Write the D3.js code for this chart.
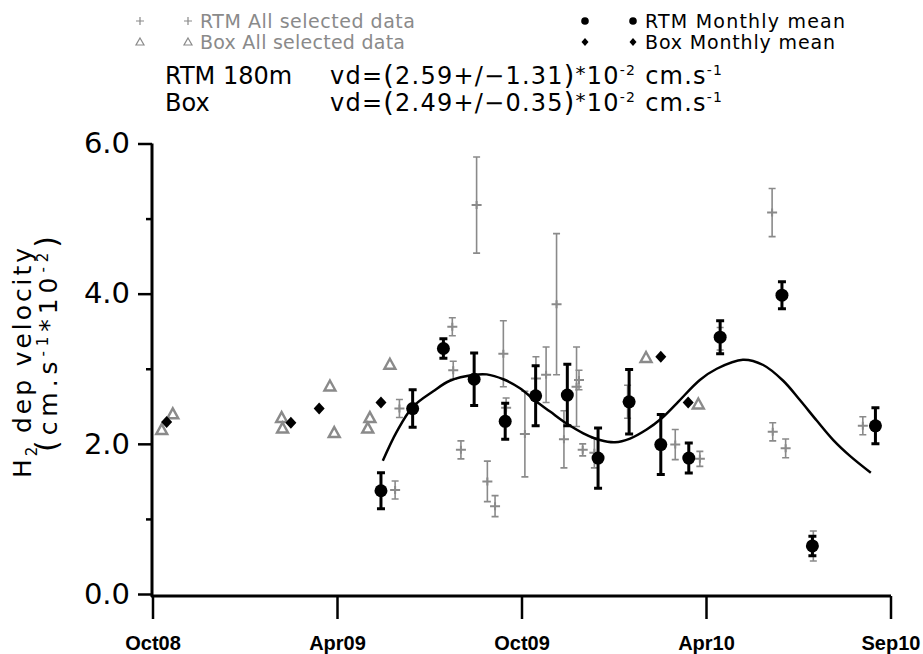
<!DOCTYPE html>
<html>
<head>
<meta charset="utf-8">
<script src="https://cdn.jsdelivr.net/npm/d3@7"></script>
<style>
  body { margin: 0; background: #fff; }
  svg text { font-family: "DejaVu Sans", sans-serif; }
</style>
</head>
<body>
<div id="chart"></div>
<script>
// months since Oct 2008
const tickMonths = [0, 6, 12, 18, 24];
const tickLabels = ['Oct08', 'Apr09', 'Oct09', 'Apr10', 'Sep10'];

const rtmAllMonth = [7.89, 8.03, 9.75, 9.78, 10.03, 10.54, 10.89, 11.14, 11.41, 11.5, 12.11, 12.47, 12.8, 13.14,
  13.38, 13.79, 13.87, 13.99, 14.37, 15.45, 17.0, 17.8, 18.46, 20.15, 20.17, 20.59, 21.49, 23.1];
const rtmAllValue = [1.385, 2.47, 3.56, 2.98, 1.92, 5.18, 1.50, 1.17, 3.20, 2.48, 2.13, 2.87, 2.92, 3.86,
  2.06, 2.76, 2.85, 1.92, 1.88, 2.56, 1.99, 1.80, 3.40, 5.08, 2.16, 1.94, 0.64, 2.24];
const rtmAllErr = [0.12, 0.12, 0.12, 0.12, 0.12, 0.64, 0.27, 0.14, 0.44, 0.13, 0.57, 0.29, 0.37, 0.94,
  0.38, 0.53, 0.13, 0.08, 0.2, 0.22, 0.2, 0.1, 0.15, 0.32, 0.12, 0.125, 0.2, 0.12];

const rtmMeanMonth = [7.43, 8.46, 9.46, 10.46, 11.47, 12.46, 13.49, 14.49, 15.5, 16.53, 17.44, 18.46, 20.47, 21.46, 23.51];
const rtmMeanValue = [1.375, 2.47, 3.27, 2.86, 2.30, 2.64, 2.65, 1.81, 2.56, 1.99, 1.81, 3.42, 3.98, 0.64, 2.24];
const rtmMeanErr = [0.24, 0.25, 0.13, 0.35, 0.24, 0.40, 0.41, 0.40, 0.43, 0.40, 0.2, 0.22, 0.18, 0.13, 0.24];

const boxAllMonth = [0.3, 0.66, 4.2, 4.23, 5.77, 5.91, 7.07, 7.0, 7.72, 16.05, 17.75];
const boxAllValue = [2.19, 2.40, 2.35, 2.21, 2.77, 2.15, 2.35, 2.21, 3.06, 3.15, 2.53];

const boxMeanMonth = [0.46, 4.5, 5.42, 7.43, 16.53, 17.42];
const boxMeanValue = [2.29, 2.28, 2.47, 2.55, 3.16, 2.55];

const fitMonth = [7.49, 7.94, 8.46, 9.13, 9.67, 10.46, 10.87, 11.41, 11.95, 12.46, 12.93, 13.47, 14.01, 14.55,
  15.04, 15.53, 16.07, 16.53, 17.05, 17.8, 18.35, 19.2, 19.86, 20.51, 21.06, 21.6, 22.14, 22.68, 23.36];
const fitValue = [1.775, 2.16, 2.49, 2.70, 2.84, 2.92, 2.925, 2.86, 2.74, 2.57, 2.43, 2.27, 2.14, 2.05,
  2.02, 2.07, 2.19, 2.33, 2.54, 2.85, 3.0, 3.12, 3.05, 2.84, 2.58, 2.31, 2.05, 1.84, 1.615];

const W = 923, H = 654;
const grey = '#8a8a8a';

const svg = d3.select('#chart').append('svg')
  .attr('width', W)
  .attr('height', H);

const x = d3.scaleLinear().domain([0, 24]).range([152.5, 890.5]);
const y = d3.scaleLinear().domain([0, 6]).range([594, 143.5]);

// y axis
const yAxis = svg.append('g')
  .attr('transform', 'translate(152,0)')
  .call(d3.axisLeft(y).tickValues([0, 1, 2, 3, 4, 5, 6]).tickSizeOuter(0).tickPadding(10)
    .tickFormat((d) => (d % 2 === 0 ? d3.format('.1f')(d) : '')));
yAxis.select('.domain').attr('stroke', '#000').attr('stroke-width', 3).attr('d', 'M0,143.5V597');
yAxis.selectAll('.tick line').attr('stroke-width', 2.5).attr('x2', (d) => (d % 2 === 0 ? -14 : -6));
yAxis.selectAll('.tick text')
  .attr('x', -22)
  .style('font-family', '"DejaVu Sans", sans-serif')
  .style('font-size', '29px')
  .attr('fill', '#000');

// x axis
const xAxis = svg.append('g')
  .attr('transform', 'translate(0,596)')
  .call(d3.axisBottom(x).tickValues(tickMonths).tickSize(23).tickSizeOuter(0)
    .tickFormat((d, i) => tickLabels[i]));
xAxis.select('.domain').attr('stroke-width', 3).attr('d', 'M151,0H891');
xAxis.selectAll('.tick line').attr('stroke-width', 2.5);
xAxis.selectAll('.tick text')
  .attr('y', 54)
  .attr('dy', null)
  .style('font-family', '"Liberation Sans", Arial, sans-serif')
  .style('font-weight', 'bold')
  .style('font-size', '20px')
  .attr('fill', '#000');

// y axis title
const yTitle = svg.append('g').attr('transform', 'rotate(-90)');
const t1 = yTitle.append('text')
  .attr('x', -478).attr('y', 31)
  .style('font-size', '25px');
t1.append('tspan').text('H');
t1.append('tspan').attr('dy', 6).style('font-size', '15px').text('2');
t1.append('tspan').attr('dy', -6).text(' dep velocity');
t1.attr('textLength', 230).attr('lengthAdjust', 'spacing');

const t2 = yTitle.append('text')
  .attr('x', -452).attr('y', 57)
  .style('font-size', '25px');
t2.append('tspan').style('font-size', '30px').text('(');
t2.append('tspan').text('cm.s');
t2.append('tspan').attr('dy', -9).style('font-size', '15px').text('-1');
t2.append('tspan').attr('dy', 9).text('*10');
t2.append('tspan').attr('dy', -9).style('font-size', '15px').text('-2');
t2.append('tspan').attr('dy', 9).style('font-size', '30px').text(')');
t2.attr('textLength', 216).attr('lengthAdjust', 'spacing');

// legend
const legendRows = [
  { sym: 'plus', label: 'RTM All selected data', x: 140, y: 21, color: grey, len: 215 },
  { sym: 'tri', label: 'Box All selected data', x: 140, y: 42, color: grey, len: 205 },
  { sym: 'dot', label: 'RTM Monthly mean', x: 585, y: 21, color: '#000', len: 200 },
  { sym: 'diamond', label: 'Box Monthly mean', x: 585, y: 42, color: '#000', len: 190 }
];

function legendSymbol(g, sym, cx, cy, color) {
  if (sym === 'plus') {
    g.append('path').attr('d', `M${cx - 4},${cy}H${cx + 4}M${cx},${cy - 4}V${cy + 4}`)
      .attr('stroke', color).attr('stroke-width', 1.2).attr('fill', 'none');
  } else if (sym === 'tri') {
    g.append('path').attr('d', `M${cx},${cy - 4}L${cx + 4},${cy + 3}L${cx - 4},${cy + 3}Z`)
      .attr('stroke', color).attr('stroke-width', 1.2).attr('fill', 'none');
  } else if (sym === 'dot') {
    g.append('circle').attr('cx', cx).attr('cy', cy).attr('r', 3.8).attr('fill', color);
  } else {
    g.append('path').attr('d', `M${cx},${cy - 4}L${cx + 3.5},${cy}L${cx},${cy + 4}L${cx - 3.5},${cy}Z`)
      .attr('fill', color);
  }
}

const legend = svg.append('g');
legendRows.forEach((r) => {
  legendSymbol(legend, r.sym, r.x, r.y, r.color);
  legendSymbol(legend, r.sym, r.x + 48, r.y, r.color);
  legend.append('text')
    .attr('x', r.x + 60).attr('y', r.y + 7)
    .style('font-size', '19px')
    .attr('fill', r.color)
    .attr('textLength', r.len)
    .attr('lengthAdjust', 'spacing')
    .text(r.label);
});

// title lines
const titleRows = [
  { name: 'RTM  180m', mean: '2.59', sd: '1.31', y: 84 },
  { name: 'Box', mean: '2.49', sd: '0.35', y: 111 }
];
titleRows.forEach((r) => {
  svg.append('text').attr('x', 165).attr('y', r.y)
    .style('font-size', '24px').text(r.name);
  const t = svg.append('text').attr('x', 330).attr('y', r.y).style('font-size', '24px');
  t.append('tspan').text('vd=');
  t.append('tspan').style('font-size', '27px').text('(');
  t.append('tspan').text(`${r.mean}+/\u2212${r.sd}`);
  t.append('tspan').style('font-size', '27px').text(')');
  t.append('tspan').style('font-size', '20px').attr('dy', -4).text('*');
  t.append('tspan').attr('dy', 4).text('10');
  t.append('tspan').attr('dy', -9).style('font-size', '14px').text('-2');
  t.append('tspan').attr('dy', 9).text(' cm.s');
  t.append('tspan').attr('dy', -9).style('font-size', '14px').text('-1');
  t.attr('textLength', 392).attr('lengthAdjust', 'spacing');
});

// RTM all selected data: grey error bars and plus markers
const rtmAll = rtmAllMonth.map((m, i) => ({ m, v: rtmAllValue[i], e: rtmAllErr[i] }));
const gAll = svg.append('g').attr('stroke', grey).attr('fill', 'none');
gAll.selectAll('path.err')
  .data(rtmAll)
  .enter()
  .append('path')
  .attr('class', 'err')
  .attr('stroke-width', 1.6)
  .attr('d', (d) => {
    const cx = x(d.m), y1 = y(d.v + d.e), y2 = y(d.v - d.e);
    return `M${cx},${y1}V${y2}M${cx - 3.5},${y1}H${cx + 3.5}M${cx - 3.5},${y2}H${cx + 3.5}`;
  });
gAll.selectAll('path.plus')
  .data(rtmAll)
  .enter()
  .append('path')
  .attr('class', 'plus')
  .attr('stroke-width', 2)
  .attr('d', (d) => `M${x(d.m) - 5},${y(d.v)}H${x(d.m) + 5}M${x(d.m)},${y(d.v) - 4}V${y(d.v) + 4}`);

// Box all selected data: grey triangles
const boxAll = boxAllMonth.map((m, i) => ({ m, v: boxAllValue[i] }));
svg.append('g')
  .selectAll('path')
  .data(boxAll)
  .enter()
  .append('path')
  .attr('d', (d) => {
    const cx = x(d.m), cy = y(d.v);
    return `M${cx},${cy - 5.5}L${cx + 5.5},${cy + 4.5}L${cx - 5.5},${cy + 4.5}Z`;
  })
  .attr('fill', 'none')
  .attr('stroke', grey)
  .attr('stroke-width', 2.4);

// fitted curve
const fit = fitMonth.map((m, i) => ({ m, v: fitValue[i] }));
svg.append('path')
  .datum(fit)
  .attr('fill', 'none')
  .attr('stroke', '#000')
  .attr('stroke-width', 2.5)
  .attr('d', d3.line().x((d) => x(d.m)).y((d) => y(d.v)).curve(d3.curveCatmullRom));

// Box monthly means: black diamonds
const boxMean = boxMeanMonth.map((m, i) => ({ m, v: boxMeanValue[i] }));
svg.append('g')
  .selectAll('path')
  .data(boxMean)
  .enter()
  .append('path')
  .attr('d', (d) => {
    const cx = x(d.m), cy = y(d.v);
    return `M${cx},${cy - 6}L${cx + 5.5},${cy}L${cx},${cy + 6}L${cx - 5.5},${cy}Z`;
  })
  .attr('fill', '#000');

// RTM monthly means: black circles with error bars
const rtmMean = rtmMeanMonth.map((m, i) => ({ m, v: rtmMeanValue[i], e: rtmMeanErr[i] }));
const gMean = svg.append('g');
gMean.selectAll('path')
  .data(rtmMean)
  .enter()
  .append('path')
  .attr('stroke', '#000')
  .attr('stroke-width', 3)
  .attr('fill', 'none')
  .attr('d', (d) => {
    const cx = x(d.m), y1 = y(d.v + d.e), y2 = y(d.v - d.e);
    return `M${cx},${y1}V${y2}M${cx - 4},${y1}H${cx + 4}M${cx - 4},${y2}H${cx + 4}`;
  });
gMean.selectAll('circle')
  .data(rtmMean)
  .enter()
  .append('circle')
  .attr('cx', (d) => x(d.m))
  .attr('cy', (d) => y(d.v))
  .attr('r', 6.5)
  .attr('fill', '#000');
</script>
</body>
</html>
